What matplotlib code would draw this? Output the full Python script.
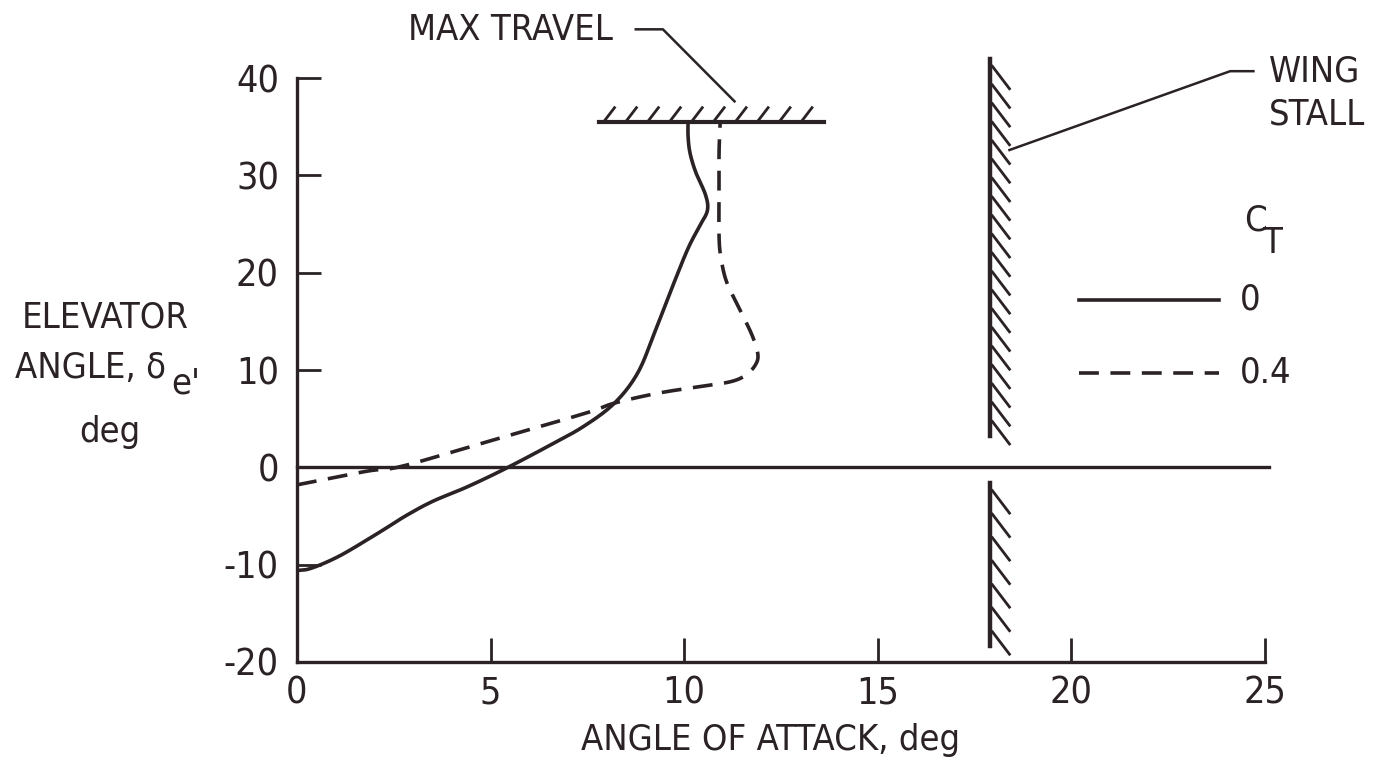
import numpy as np
import matplotlib.pyplot as plt

plt.rcParams['font.family'] = ['DejaVu Sans']
plt.rcParams['font.stretch'] = 'condensed'

# C_T = 0 (solid)
ct0_x = [0, 0.25, 0.55, 0.95, 1.37, 2.2, 2.8, 3.5, 4.4, 5.4, 6.5, 7.4, 8.2, 8.8, 9.25,
         9.7, 10.1, 10.4, 10.6, 10.55, 10.3, 10.15, 10.1, 10.1]
ct0_y = [-10.6, -10.5, -10.1, -9.4, -8.5, -6.5, -5.0, -3.5, -2.0, -0.1, 2.2, 4.2, 6.6,
         9.7, 14.0, 18.6, 22.5, 24.8, 26.4, 28.0, 30.3, 32.3, 34.0, 35.5]

# C_T = 0.4 (dashed)
ct4_x = [0, 1.8, 2.7, 4.8, 7.4, 8.2, 9.3, 10.4, 11.2, 11.6, 11.85, 11.9, 11.75,
         11.45, 11.1, 10.95, 10.9, 10.9, 10.9, 10.93]
ct4_y = [-1.8, -0.4, 0.1, 2.5, 5.5, 6.6, 7.6, 8.3, 8.8, 9.5, 10.6, 11.7, 13.6,
         16.1, 19.0, 21.5, 23.7, 28.0, 32.3, 35.5]

max_travel = 35.5
max_travel_span = [7.8, 13.6]
stall_alpha = 17.9
stall_upper = [3.2, 42.0]
stall_lower = [-18.4, -1.6]

xticks = [0, 5, 10, 15, 20, 25]
yticks = [-20, -10, 0, 10, 20, 30, 40]

ink = '#2a2224'
fs_tick = 27
fs_lab = 26


def smooth(xs, ys, n=12):
    # catmull-rom through the read points, for drawing only
    p = np.column_stack([xs, ys]).astype(float)
    p = np.vstack([p[0], p, p[-1]])
    out = []
    t = np.linspace(0, 1, n, endpoint=False)[:, None]
    for i in range(1, len(p) - 2):
        p0, p1, p2, p3 = p[i - 1], p[i], p[i + 1], p[i + 2]
        out.append(0.5 * ((2 * p1) + (-p0 + p2) * t + (2 * p0 - 5 * p1 + 4 * p2 - p3) * t ** 2
                          + (-p0 + 3 * p1 - 3 * p2 + p3) * t ** 3))
    out.append(p[-2][None, :])
    out = np.vstack(out)
    return out[:, 0], out[:, 1]


fig = plt.figure(figsize=(13.75, 7.65), dpi=100)
ax = fig.add_axes([297/1375, 1 - 662/765, (1265-297)/1375, (662-78)/765])
ax.set_xlim(0, 25)
ax.set_ylim(-20, 40)
for s in ['top', 'right']:
    ax.spines[s].set_visible(False)
for s in ['left', 'bottom']:
    ax.spines[s].set_linewidth(2.4)
    ax.spines[s].set_color(ink)
ax.set_xticks(xticks)
ax.set_yticks(yticks)
ax.tick_params(direction='in', length=17, width=2, colors=ink, labelsize=fs_tick)
ax.tick_params(axis='y', pad=13)
ax.tick_params(axis='x', pad=10)
ax.set_xticklabels([str(t) for t in xticks])
ax.set_yticklabels([str(t) for t in yticks])
ax.patch.set_alpha(0)

# zero line
ax.plot([0, 25.1], [0, 0], color=ink, lw=2.4, clip_on=False)

sx, sy = smooth(ct0_x, ct0_y)
ax.plot(sx, sy, color=ink, lw=2.6, solid_joinstyle='round', solid_capstyle='round')
dx, dy = smooth(ct4_x, ct4_y)
ax.plot(dx, dy, color=ink, lw=2.6, linestyle=(0, (5.5, 3.2)))

# max travel limit with hatches
ax.plot(max_travel_span, [max_travel, max_travel], color=ink, lw=3, clip_on=False)
for hx in np.linspace(max_travel_span[0] + 0.15, max_travel_span[1] - 0.55, 10):
    ax.plot([hx, hx + 0.25], [max_travel + 0.15, max_travel + 1.45], color=ink, lw=2, clip_on=False)

# wing stall limit with hatches
for seg, n in [(stall_upper, 20), (stall_lower, 7)]:
    ax.plot([stall_alpha, stall_alpha], seg, color=ink, lw=3.2, clip_on=False)
    for hy in np.linspace(seg[1] - 0.8, seg[0] + 1.5, n):
        ax.plot([stall_alpha + 0.06, stall_alpha + 0.5], [hy, hy - 2.3], color=ink, lw=2, clip_on=False)

# annotations
ax.plot([8.75, 9.45, 11.3], [45.0, 45.0, 37.6], color=ink, lw=1.8, clip_on=False)
ax.text(8.15, 44.9, 'MAX TRAVEL', fontsize=fs_lab, color=ink, ha='right', va='center')
ax.plot([24.7, 24.1, 18.4], [40.7, 40.7, 32.6], color=ink, lw=1.8, clip_on=False)
ax.text(25.1, 40.7, 'WING', fontsize=fs_lab, color=ink, ha='left', va='center')
ax.text(25.1, 36.2, 'STALL', fontsize=fs_lab, color=ink, ha='left', va='center')

# legend
ax.text(24.45, 25.4, 'C', fontsize=fs_lab, color=ink, ha='left', va='center')
ax.text(24.95, 23.0, 'T', fontsize=fs_lab, color=ink, ha='left', va='center')
ax.plot([20.2, 23.8], [17.2, 17.2], color=ink, lw=2.6, clip_on=False)
ax.text(24.35, 17.2, '0', fontsize=fs_lab, color=ink, ha='left', va='center')
ax.plot([20.2, 23.8], [9.7, 9.7], color=ink, lw=2.6, linestyle=(0, (5.5, 3.2)), clip_on=False)
ax.text(24.35, 9.7, '0.4', fontsize=fs_lab, color=ink, ha='left', va='center')

# axis labels
fig.text(105/1375, 1 - 317/765, 'ELEVATOR', fontsize=fs_lab, color=ink, ha='center', va='center')
fig.text(15/1375, 1 - 368/765, 'ANGLE, \u03b4', fontsize=fs_lab, color=ink, ha='left', va='center')
fig.text(171/1375, 1 - 384/765, "e'", fontsize=fs_lab, color=ink, ha='left', va='center')
fig.text(110/1375, 1 - 432/765, 'deg', fontsize=fs_lab, color=ink, ha='center', va='center')
fig.text(771/1375, 1 - 740/765, 'ANGLE OF ATTACK, deg', fontsize=fs_lab, color=ink, ha='center', va='center')

fig.savefig('out.png', dpi=100, facecolor='white')
